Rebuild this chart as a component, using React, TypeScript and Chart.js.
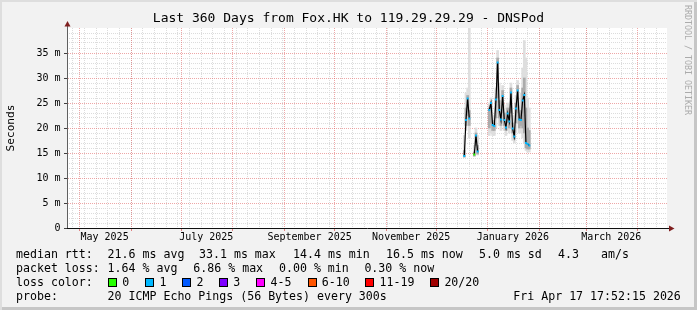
import React, { useEffect, useRef } from 'react';
import { Chart, registerables } from 'chart.js';

Chart.register(...registerables);

// ---------- time window ----------
const DAY_MS = 86400000;
const WINDOW_DAYS = 360;
const WINDOW_END = Date.UTC(2026, 3, 18, 11, 0);
const WINDOW_START = WINDOW_END - WINDOW_DAYS * DAY_MS;

// consolidated samples (one per day)
const SAMPLE_START = Date.UTC(2025, 11, 17, 20, 0);
const SAMPLE_STEP_MS = DAY_MS;

// ---------- series ----------
const medianRtt = [
  14.4, 21.6, 25.9, 21.9, null, null, 14.7, 18.5, 15.3, null,
  null, null, null, null, null, 23.6, 25.0, 20.6, 20.4, 25.7,
  33.1, 23.6, 21.7, 26.4, 21.6, 20.1, 22.9, 21.3, 27.1, 19.9,
  18.3, 23.9, 27.5, 21.7, 21.6, 25.5, 26.6, 17.0, 16.8, 16.5,
];
const lostPings = [
  1, 1, 1, 1, null, null, 0, 1, 1, null,
  null, null, null, null, null, 1, 1, 1, 1, 1,
  1, 1, 1, 1, 1, 1, 1, 1, 1, 1,
  1, 1, 1, 1, 1, 1, 1, 1, 1, 1,
];
const smokeOuterLow = [
  14.1, 19.5, 20.5, 18.0, null, null, 14.3, 15.5, 14.6, null,
  null, null, null, null, null, 18.5, 19.0, 18.5, 18.5, 20.0,
  23.0, 20.5, 19.5, 21.0, 19.5, 18.5, 19.5, 19.0, 21.0, 17.5,
  17.0, 19.0, 21.0, 19.0, 19.0, 18.0, 17.0, 15.5, 15.2, 15.2,
];
const smokeOuterHigh = [
  18.5, 27.0, 28.0, 40.0, null, null, 16.5, 20.0, 18.5, null,
  null, null, null, null, null, 25.0, 26.0, 22.5, 22.0, 28.0,
  35.5, 29.0, 24.5, 28.5, 24.5, 23.0, 25.0, 24.0, 29.0, 22.5,
  21.0, 26.5, 29.5, 25.0, 27.0, 32.0, 37.5, 34.0, 26.0, 24.0,
];
const smokeInnerLow = [
  14.2, 20.5, 22.5, 20.5, null, null, 14.4, 16.5, 14.8, null,
  null, null, null, null, null, 20.0, 21.0, 19.5, 19.5, 22.0,
  26.0, 22.0, 20.5, 23.0, 20.5, 19.5, 21.0, 20.0, 23.0, 19.0,
  17.8, 21.0, 23.0, 20.0, 20.5, 20.0, 19.0, 16.0, 15.8, 15.8,
];
const smokeInnerHigh = [
  15.5, 24.0, 26.5, 23.5, null, null, 15.2, 19.0, 16.5, null,
  null, null, null, null, null, 24.0, 24.5, 21.5, 21.0, 26.0,
  34.0, 25.5, 23.0, 27.5, 23.0, 21.5, 24.0, 22.5, 28.0, 21.0,
  19.5, 25.0, 28.5, 23.0, 23.5, 28.0, 30.0, 24.0, 20.0, 19.5,
];

// ---------- axes ----------
const monthStarts = [
  '2025-05-01', '2025-06-01', '2025-07-01', '2025-08-01', '2025-09-01', '2025-10-01',
  '2025-11-01', '2025-12-01', '2026-01-01', '2026-02-01', '2026-03-01', '2026-04-01',
];
const axisLabelDates = ['2025-05-16', '2025-07-16', '2025-09-16', '2025-11-16', '2026-01-16', '2026-03-16'];
const axisLabelTexts = ['May 2025', 'July 2025', 'September 2025', 'November 2025', 'January 2026', 'March 2026'];
const firstWeekLine = '2025-04-27';
const yMajorTicks = [0, 5, 10, 15, 20, 25, 30, 35];
const Y_MAX = 40;

// ---------- legend ----------
const titleText = 'Last 360 Days from Fox.HK to 119.29.29.29 - DNSPod';
const medianStats = ['21.6 ms avg', '33.1 ms max', '14.4 ms min', '16.5 ms now', '5.0 ms sd', '4.3', 'am/s'];
const lossStats = ['1.64 % avg', '6.86 % max', '0.00 % min', '0.30 % now'];
const lossColorLabels = ['0', '1', '2', '3', '4-5', '6-10', '11-19', '20/20'];
const lossBinMax = [0, 1, 2, 3, 5, 10, 19, 20];
const lossColors = ['#26ff00', '#00b8ff', '#0059ff', '#7e00ff', '#ff00ff', '#ff5500', '#ff0000', '#a00000'];
const probeText = '20 ICMP Echo Pings (56 Bytes) every 300s';
const stampText = 'Fri Apr 17 17:52:15 2026';
const watermark = 'RRDTOOL / TOBI OETIKER';

// ---------- layout / style ----------
const FONT = '"DejaVu Sans Mono", monospace';
const GRID_MINOR = '#dcdcdc';
const GRID_MAJOR = 'rgba(222,79,79,0.5)';
const ARROW = '#7f1f1f';
const medianStatX = [107.6, 199, 293, 386, 479, 558, 601];
const lossStatX = [107.6, 193.3, 279, 364.4];
const lossBoxX = [108, 145.3, 182.2, 219.1, 256.4, 307.6, 365.3, 430.2];
const rowTop = [247.1, 261.1, 275.1, 288.8];

const sampleTime = (k: number) => SAMPLE_START + k * SAMPLE_STEP_MS;
const lossColorFor = (lost: number | null) => {
  if (lost === null) return 'rgba(0,0,0,0)';
  const i = lossBinMax.findIndex((m) => lost <= m);
  return lossColors[i < 0 ? lossColors.length - 1 : i];
};

function buildChart(canvas: HTMLCanvasElement) {
  const medianPoints = medianRtt.map((v, k) => ({ x: sampleTime(k), y: v }));
  const pointColors = lostPings.map(lossColorFor);
  const bars = (lo: (number | null)[], hi: (number | null)[]) =>
    lo
      .map((l, k) => (l === null || hi[k] === null ? null : { x: sampleTime(k), y: [l, hi[k] as number] }))
      .filter((p) => p !== null);

  const monthTimes = monthStarts.map((d) => Date.parse(d));
  const labelTimes = axisLabelDates.map((d) => Date.parse(d));
  const weekTimes: number[] = [];
  for (let t = Date.parse(firstWeekLine); t < WINDOW_END; t += 7 * DAY_MS) weekTimes.push(t);
  const yMinorTicks: number[] = [];
  for (let v = 1; v < Y_MAX; v++) if (v % 5 !== 0) yMinorTicks.push(v);

  const isMonth = (v: number) => monthTimes.includes(v);

  const decor = {
    id: 'rrdDecor',
    beforeDraw(c: any) {
      const { ctx, chartArea: a } = c;
      ctx.save();
      ctx.fillStyle = '#ffffff';
      ctx.fillRect(a.left, a.top, a.right - a.left, a.bottom - a.top);
      ctx.restore();
    },
    afterDraw(c: any) {
      const { ctx, chartArea: a } = c;
      ctx.save();
      const x = a.left + 0.5;
      ctx.strokeStyle = '#606060';
      ctx.lineWidth = 1;
      ctx.beginPath();
      ctx.moveTo(x, a.top);
      ctx.lineTo(x, a.top - 2);
      ctx.stroke();
      const y = a.bottom + 0.5;
      ctx.strokeStyle = '#101010';
      ctx.beginPath();
      ctx.moveTo(a.right, y);
      ctx.lineTo(a.right + 2, y);
      ctx.stroke();
      ctx.fillStyle = ARROW;
      ctx.beginPath();
      ctx.moveTo(x - 3, a.top - 1.5);
      ctx.lineTo(x + 3, a.top - 1.5);
      ctx.lineTo(x, a.top - 7);
      ctx.closePath();
      ctx.fill();
      ctx.beginPath();
      ctx.moveTo(a.right + 2, y - 3);
      ctx.lineTo(a.right + 2, y + 3);
      ctx.lineTo(a.right + 7.5, y);
      ctx.closePath();
      ctx.fill();
      ctx.restore();
    },
  };

  return new Chart(canvas, {
    type: 'bar',
    data: {
      datasets: [
        {
          type: 'line',
          label: 'median rtt',
          data: medianPoints as any,
          xAxisID: 'x',
          yAxisID: 'y',
          borderColor: '#000000',
          borderWidth: 1.2,
          tension: 0,
          spanGaps: false,
          pointStyle: 'rect',
          pointRadius: 1.4,
          pointBorderWidth: 0,
          pointBackgroundColor: pointColors,
          order: 0,
        },
        {
          type: 'bar',
          label: 'smoke inner',
          data: bars(smokeInnerLow, smokeInnerHigh) as any,
          xAxisID: 'x',
          yAxisID: 'y',
          backgroundColor: '#ababab',
          borderWidth: 0,
          barThickness: 2,
          grouped: false,
          order: 1,
        } as any,
        {
          type: 'bar',
          label: 'smoke outer',
          data: bars(smokeOuterLow, smokeOuterHigh) as any,
          xAxisID: 'x',
          yAxisID: 'y',
          backgroundColor: '#dedede',
          borderWidth: 0,
          barThickness: 2,
          grouped: false,
          order: 2,
        } as any,
      ],
    },
    options: {
      animation: false,
      responsive: false,
      devicePixelRatio: 1,
      events: [],
      layout: { padding: 0 },
      plugins: {
        legend: { display: false },
        tooltip: { enabled: false },
        title: {
          display: true,
          text: titleText,
          color: '#000000',
          font: { family: FONT, size: 13, weight: 'normal' },
          padding: { top: 11.2, bottom: 1.2 },
        },
      },
      scales: {
        yMinor: {
          type: 'linear',
          position: 'right',
          min: 0,
          max: Y_MAX,
          bounds: 'data',
          afterBuildTicks: (s: any) => {
            s.ticks = yMinorTicks.map((v) => ({ value: v }));
          },
          afterFit: (s: any) => {
            s.width = 30;
          },
          ticks: { display: false },
          grid: { color: GRID_MINOR, lineWidth: 1, drawTicks: false },
          border: { display: false, dash: [1, 1] },
        },
        xMinor: {
          type: 'linear',
          position: 'bottom',
          min: WINDOW_START,
          max: WINDOW_END,
          bounds: 'data',
          offset: false,
          afterBuildTicks: (s: any) => {
            s.ticks = weekTimes.map((v) => ({ value: v }));
          },
          afterFit: (s: any) => {
            s.height = 0;
          },
          ticks: { display: false },
          grid: { color: GRID_MINOR, lineWidth: 1, drawTicks: false, offset: false },
          border: { display: false, dash: [1, 1] },
        },
        y: {
          type: 'linear',
          position: 'left',
          min: 0,
          max: Y_MAX,
          bounds: 'data',
          afterBuildTicks: (s: any) => {
            s.ticks = yMajorTicks.map((v) => ({ value: v }));
          },
          afterFit: (s: any) => {
            s.width = 67;
          },
          ticks: {
            color: '#000000',
            font: { family: FONT, size: 10 },
            padding: 3.5,
            callback: (v: any) => (v === 0 ? '0' : `${v} m`),
          },
          grid: { color: GRID_MAJOR, lineWidth: 1, drawTicks: true, tickLength: 3, tickColor: '#404040' },
          border: { display: true, color: '#606060', width: 1, dash: [1, 1] },
          title: {
            display: true,
            text: 'Seconds',
            color: '#000000',
            font: { family: FONT, size: 11.1 },
            padding: { top: 4.4, bottom: 0 },
          },
        },
        x: {
          type: 'linear',
          position: 'bottom',
          min: WINDOW_START,
          max: WINDOW_END,
          bounds: 'data',
          offset: false,
          afterBuildTicks: (s: any) => {
            s.ticks = [...monthTimes, ...labelTimes].sort((a, b) => a - b).map((v) => ({ value: v }));
          },
          afterFit: (s: any) => {
            s.height = 82;
          },
          ticks: {
            autoSkip: false,
            maxRotation: 0,
            minRotation: 0,
            color: '#000000',
            font: { family: FONT, size: 10 },
            padding: 0.7,
            callback: (v: any) => {
              const i = labelTimes.indexOf(v);
              return i >= 0 ? axisLabelTexts[i] : '';
            },
          },
          grid: {
            offset: false,
            lineWidth: 1,
            drawTicks: true,
            tickLength: 3,
            color: (ctx: any) => (ctx.tick && isMonth(ctx.tick.value) ? GRID_MAJOR : 'rgba(0,0,0,0)'),
            tickColor: (ctx: any) => (ctx.tick && isMonth(ctx.tick.value) ? '#e08080' : 'rgba(0,0,0,0)'),
          },
          border: { display: true, color: '#101010', width: 1, dash: [1, 1] },
        },
      } as any,
    },
    plugins: [decor],
  } as any);
}

const textStyle = (left: number, top: number): React.CSSProperties => ({
  position: 'absolute',
  left,
  top,
  whiteSpace: 'pre',
  fontFamily: FONT,
  fontSize: 11.6,
  lineHeight: '14px',
  color: '#000',
});

export default function App() {
  const ref = useRef<HTMLCanvasElement>(null);
  useEffect(() => {
    document.body.style.margin = '0';
    const chart = buildChart(ref.current as HTMLCanvasElement);
    return () => chart.destroy();
  }, []);

  return (
    <div
      style={{
        position: 'relative',
        width: 697,
        height: 310,
        overflow: 'hidden',
        background: '#f2f2f2',
        boxShadow: 'inset 2px 2px 0 #dedede, inset -3px -3px 0 #c6c6c6',
      }}
    >
      <canvas ref={ref} width={697} height={310} style={{ position: 'absolute', left: 0, top: 0, width: 697, height: 310 }} />

      <span style={textStyle(16, rowTop[0])}>median rtt:</span>
      {medianStats.map((s, i) => (
        <span key={'m' + i} style={textStyle(medianStatX[i], rowTop[0])}>{s}</span>
      ))}

      <span style={textStyle(16, rowTop[1])}>packet loss:</span>
      {lossStats.map((s, i) => (
        <span key={'l' + i} style={textStyle(lossStatX[i], rowTop[1])}>{s}</span>
      ))}

      <span style={textStyle(16, rowTop[2])}>loss color:</span>
      {lossColorLabels.map((s, i) => (
        <React.Fragment key={'c' + i}>
          <span
            style={{
              position: 'absolute',
              left: lossBoxX[i],
              top: rowTop[2] + 3,
              width: 9,
              height: 9,
              boxSizing: 'border-box',
              border: '1px solid #000',
              background: lossColors[i],
            }}
          />
          <span style={textStyle(lossBoxX[i] + 14.2, rowTop[2])}>{s}</span>
        </React.Fragment>
      ))}

      <span style={textStyle(16, rowTop[3])}>probe:</span>
      <span style={textStyle(107.6, rowTop[3])}>{probeText}</span>
      <span style={textStyle(513.3, rowTop[3])}>{stampText}</span>

      <span
        style={{
          position: 'absolute',
          left: 683,
          top: 5,
          writingMode: 'vertical-rl',
          fontFamily: FONT,
          fontSize: 8.3,
          lineHeight: '10px',
          color: '#ababab',
          whiteSpace: 'pre',
        }}
      >
        {watermark}
      </span>
    </div>
  );
}
